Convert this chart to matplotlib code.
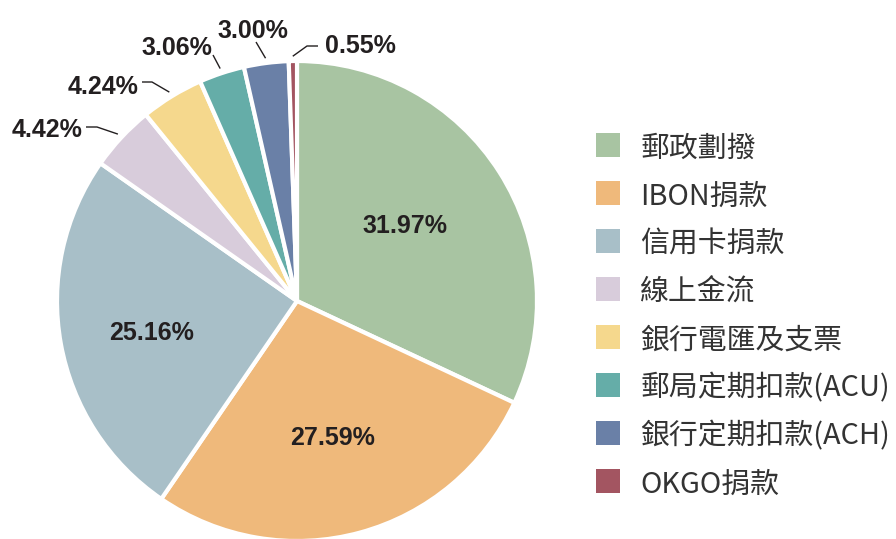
import numpy as np
import matplotlib
matplotlib.use("Agg")
import matplotlib.pyplot as plt
from matplotlib.patches import Rectangle

categories = ["郵政劃撥", "IBON捐款", "信用卡捐款", "線上金流", "銀行電匯及支票",
              "郵局定期扣款(ACU)", "銀行定期扣款(ACH)", "OKGO捐款"]
values = [31.97, 27.59, 25.16, 4.42, 4.24, 3.06, 3.00, 0.55]
colors = ["#A8C4A2", "#EFB97B", "#A8BFC8", "#D8CCDB", "#F5D88D", "#65ADA8", "#6A80A7", "#A35561"]

W, H = 896, 539
fig = plt.figure(figsize=(W / 100, H / 100), dpi=100)
CX, CY, R = 297, 301, 240
ax = fig.add_axes([(CX - R) / W, (H - CY - R) / H, 2 * R / W, 2 * R / H])

wedges, _ = ax.pie(values, colors=colors, startangle=90, counterclock=False,
                   wedgeprops=dict(edgecolor="white", linewidth=3.0))
ax.set_xlim(-1, 1)
ax.set_ylim(-1, 1)
ax.set_aspect("equal")
ax.axis("off")

def px(x, y):
    return ((x - CX) / R, (CY - y) / R)

pct_font = dict(family="Liberation Sans", weight="bold", fontsize=18, color="#231F20")

# inside labels
inside_pos = [(405, 226), (333, 438), (152, 333)]
for v, (x, y) in zip(values[:3], inside_pos):
    ax.text(*px(x, y), f"{v:.2f}%", ha="center", va="center", **pct_font)

# outside labels: (elbow points in px, text pos, ha)
outside = [
    ([(97, 127), (86, 127)], (82, 130), "right"),
    ([(152, 82), (142, 82)], (138, 87), "right"),
    ([(213, 55)], (177, 48), "center"),
    ([(256, 42)], (253, 31), "center"),
    ([(307, 46), (318, 46)], (325, 46), "left"),
]
for w, v, (pts, tpos, ha) in zip(wedges[3:], values[3:], outside):
    ang = np.deg2rad((w.theta1 + w.theta2) / 2)
    sx, sy = 1.02 * np.cos(ang), 1.02 * np.sin(ang)
    xs = [sx] + [px(*p)[0] for p in pts]
    ys = [sy] + [px(*p)[1] for p in pts]
    ax.plot(xs, ys, color="#231F20", lw=1.0, clip_on=False, solid_capstyle="butt")
    ax.text(*px(*tpos), f"{v:.2f}%", ha=ha, va="center", **pct_font)

# legend
for i, (lab, c) in enumerate(zip(categories, colors)):
    yc = 145 + 48 * i
    fig.patches.append(Rectangle((596 / W, (H - yc - 12) / H), 24 / W, 24 / H,
                                 transform=fig.transFigure, facecolor=c, edgecolor="none"))
    fig.text(640 / W, (H - yc) / H, lab, ha="left", va="center_baseline", fontsize=20.8,
             color="#333333", weight="light", family=["Noto Sans CJK TC", "DejaVu Sans"])

fig.savefig("out.png", dpi=100)
